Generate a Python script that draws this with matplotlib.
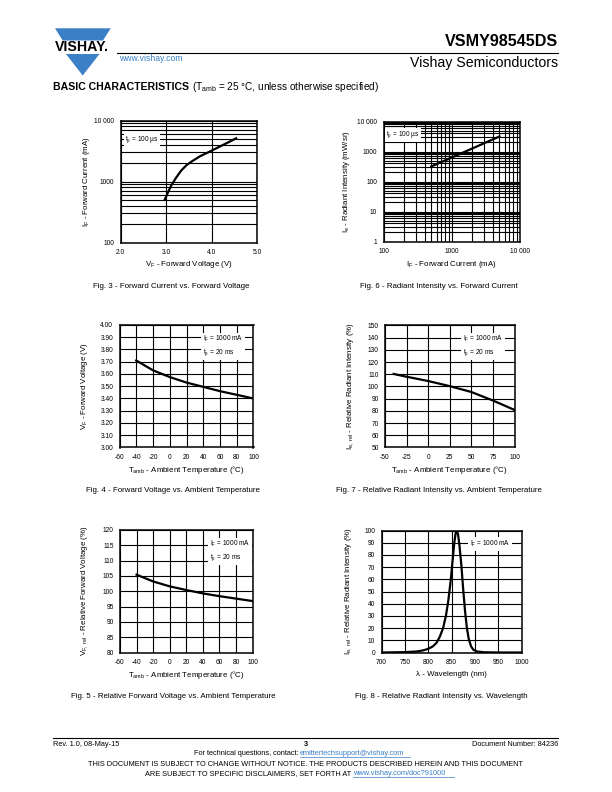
import numpy as np
import matplotlib
matplotlib.use("Agg")
import matplotlib.pyplot as plt
from matplotlib.ticker import FixedLocator, LogLocator, NullFormatter, FuncFormatter
from matplotlib.patches import Polygon

plt.rcParams['font.family'] = ['Liberation Sans', 'DejaVu Sans']
plt.rcParams['mathtext.fontset'] = 'custom'
plt.rcParams['mathtext.rm'] = 'Liberation Sans'
plt.rcParams['mathtext.it'] = 'Liberation Sans'
plt.rcParams['mathtext.default'] = 'regular'
plt.rcParams['axes.unicode_minus'] = False

W, H = 612, 792
BLUE = '#3b7fc7'

# Fig. 3 - forward current vs. forward voltage (tp = 100 us)
vf_volt = [2.97, 3.05, 3.12, 3.22, 3.34, 3.45, 3.56, 3.75, 3.96, 4.2, 4.4, 4.54]
if_ma = [500, 680, 870, 1150, 1530, 1850, 2120, 2600, 3090, 3800, 4500, 5100]

# Fig. 6 - radiant intensity vs. forward current
ie_if_ma = [500, 1000, 2000, 5000]
ie_mw_sr = [316, 630, 1260, 3160]

# Fig. 4 - forward voltage vs. ambient temperature
temp_c = [-40, -20, 0, 20, 40, 60, 80, 100]
vf_temp = [3.71, 3.63, 3.575, 3.53, 3.495, 3.46, 3.43, 3.40]

# Fig. 7 - relative radiant intensity vs. ambient temperature
temp7_c = [-40, -25, 0, 25, 50, 75, 100]
ie_rel_temp = [110.3, 108, 104.5, 100.3, 95.5, 88.5, 80.8]

# Fig. 5 - relative forward voltage vs. ambient temperature
vf_rel = [105.4, 103.2, 101.6, 100.4, 99.3, 98.4, 97.6, 96.8]

# Fig. 8 - relative radiant intensity vs. wavelength
wavelength = [700, 750, 775, 790, 800, 810, 818, 825, 832, 838, 843, 848, 852,
              856, 859, 861, 864, 867, 871, 875, 879, 883, 887, 892, 897,
              905, 920, 950, 1000]
ie_rel_wl = [0, 0.3, 0.8, 1.8, 3, 5, 8, 13, 20, 30, 42, 58, 74,
             90, 98, 100, 97, 88, 72, 52, 34, 20, 11, 5, 2.2,
             0.8, 0.2, 0, 0]

fig = plt.figure(figsize=(W / 100, H / 100), dpi=100)

# page overlay in pixel coordinates
page = fig.add_axes([0, 0, 1, 1])
page.set_xlim(0, W)
page.set_ylim(H, 0)
page.axis('off')


def ax_px(l, t, r, b):
    return fig.add_axes([l / W, 1 - b / H, (r - l) / W, (b - t) / H])


def style(ax):
    for s in ax.spines.values():
        s.set_linewidth(1.1)
        s.set_color('black')
    ax.tick_params(which='both', length=0, labelsize=4.8, pad=4.5)
    ax.grid(True, which='major', color='black', lw=0.8)
    ax.set_axisbelow(True)


def sep_thousands(v, pos):
    v = int(round(v))
    return '10 000' if v == 10000 else str(v)


def note(ax, x, y, s):
    ax.text(x, y, s, transform=ax.transAxes, fontsize=4.7, va='top', ha='left',
            linespacing=1.5,
            bbox=dict(facecolor='white', edgecolor='none', pad=1.2))


def labels(ax_box, xlabel, ylabel, caption, ylab_x, xlab_y, cap_y, cap_x):
    l, t, r, b = ax_box
    page.text((l + r) / 2, xlab_y, xlabel, fontsize=5.7, ha='center', va='center')
    page.text(ylab_x, (t + b) / 2, ylabel, fontsize=5.7, ha='center', va='center',
              rotation=90)
    page.text(cap_x, cap_y, caption, fontsize=5.7, ha='center', va='center')


# ---- Fig. 3
box3 = (120.5, 120.5, 257, 242.5)
ax3 = ax_px(*box3)
style(ax3)
ax3.set_yscale('log')
ax3.set_xlim(2.0, 5.0)
ax3.set_ylim(100, 10000)
ax3.xaxis.set_major_locator(FixedLocator([2.0, 3.0, 4.0, 5.0]))
ax3.xaxis.set_major_formatter(FuncFormatter(lambda v, p: '%.1f' % v))
ax3.yaxis.set_major_locator(FixedLocator([100, 1000, 10000]))
ax3.yaxis.set_major_formatter(FuncFormatter(sep_thousands))
ax3.yaxis.set_minor_locator(LogLocator(base=10, subs=np.arange(2, 10)))
ax3.yaxis.set_minor_formatter(NullFormatter())
ax3.grid(True, which='minor', axis='y', color='black', lw=0.8)
ax3.plot(vf_volt, if_ma, color='black', lw=1.6)
note(ax3, 0.035, 0.885, 't$_p$ = 100 µs')
labels(box3, 'V$_F$ - Forward Voltage (V)', 'I$_F$ - Forward Current (mA)',
       'Fig. 3 - Forward Current vs. Forward Voltage', 87, 265, 286, 171)

# ---- Fig. 6
box6 = (383.5, 121.5, 520, 241.5)
ax6 = ax_px(*box6)
style(ax6)
ax6.set_xscale('log')
ax6.set_yscale('log')
ax6.set_xlim(100, 10000)
ax6.set_ylim(1, 10000)
ax6.xaxis.set_major_locator(FixedLocator([100, 1000, 10000]))
ax6.xaxis.set_major_formatter(FuncFormatter(sep_thousands))
ax6.yaxis.set_major_locator(FixedLocator([1, 10, 100, 1000, 10000]))
ax6.yaxis.set_major_formatter(FuncFormatter(sep_thousands))
for a in (ax6.xaxis, ax6.yaxis):
    a.set_minor_locator(LogLocator(base=10, subs=np.arange(2, 10)))
    a.set_minor_formatter(NullFormatter())
ax6.grid(True, which='minor', color='black', lw=0.8)
ax6.plot(ie_if_ma, ie_mw_sr, color='black', lw=1.6)
note(ax6, 0.02, 0.935, 't$_p$ = 100 µs')
labels(box6, 'I$_F$ - Forward Current (mA)', 'I$_e$ - Radiant Intensity (mW/sr)',
       'Fig. 6 - Radiant Intensity vs. Forward Current', 347, 265, 286, 439)

# ---- Fig. 4
box4 = (119.5, 325, 253.5, 447.5)
ax4 = ax_px(*box4)
style(ax4)
ax4.set_xlim(-60, 100)
ax4.set_ylim(3.0, 4.0)
ax4.xaxis.set_major_locator(FixedLocator(np.arange(-60, 101, 20)))
ax4.yaxis.set_major_locator(FixedLocator(np.arange(3.0, 4.01, 0.1)))
ax4.yaxis.set_major_formatter(FuncFormatter(lambda v, p: '%.2f' % v))
ax4.plot(temp_c, vf_temp, color='black', lw=1.6)
note(ax4, 0.62, 0.93, 'I$_F$ = 1000 mA\nt$_p$ = 20 ms')
labels(box4, 'T$_{amb}$ - Ambient Temperature (°C)', 'V$_F$ - Forward Voltage (V)',
       'Fig. 4 - Forward Voltage vs. Ambient Temperature', 85, 470, 491, 173)

# ---- Fig. 7
box7 = (385, 325.5, 514.5, 447.5)
ax7 = ax_px(*box7)
style(ax7)
ax7.set_xlim(-50, 100)
ax7.set_ylim(50, 150)
ax7.xaxis.set_major_locator(FixedLocator(np.arange(-50, 101, 25)))
ax7.yaxis.set_major_locator(FixedLocator(np.arange(50, 151, 10)))
ax7.plot(temp7_c, ie_rel_temp, color='black', lw=1.6)
note(ax7, 0.6, 0.93, 'I$_F$ = 1000 mA\nt$_p$ = 20 ms')
labels(box7, 'T$_{amb}$ - Ambient Temperature (°C)',
       'I$_{e,\\ rel}$ - Relative Radiant Intensity (%)',
       'Fig. 7 - Relative Radiant Intensity vs. Ambient Temperature', 350, 470, 491, 439)

# ---- Fig. 5
box5 = (120, 530, 252.5, 652.5)
ax5 = ax_px(*box5)
style(ax5)
ax5.set_xlim(-60, 100)
ax5.set_ylim(80, 120)
ax5.xaxis.set_major_locator(FixedLocator(np.arange(-60, 101, 20)))
ax5.yaxis.set_major_locator(FixedLocator(np.arange(80, 121, 5)))
ax5.plot(temp_c, vf_rel, color='black', lw=1.6)
note(ax5, 0.68, 0.93, 'I$_F$ = 1000 mA\nt$_p$ = 20 ms')
labels(box5, 'T$_{amb}$ - Ambient Temperature (°C)',
       'V$_{F,\\ rel}$ - Relative Forward Voltage (%)',
       'Fig. 5 - Relative Forward Voltage vs. Ambient Temperature', 85, 675, 697, 173)

# ---- Fig. 8
box8 = (381.5, 530.5, 521.5, 652.5)
ax8 = ax_px(*box8)
style(ax8)
ax8.set_xlim(700, 1000)
ax8.set_ylim(0, 100)
ax8.xaxis.set_major_locator(FixedLocator(np.arange(700, 1001, 50)))
ax8.yaxis.set_major_locator(FixedLocator(np.arange(0, 101, 10)))
ax8.plot(wavelength, ie_rel_wl, color='black', lw=1.6)
note(ax8, 0.63, 0.93, 'I$_F$ = 1000 mA')
labels(box8, 'λ - Wavelength (nm)', 'I$_{e,\\ rel}$ - Relative Radiant Intensity (%)',
       'Fig. 8 - Relative Radiant Intensity vs. Wavelength', 349, 674, 696, 441)

# ---- header
page.add_patch(Polygon([(55, 28.3), (110.7, 28.3), (103, 40.5), (62.7, 40.5)],
                       closed=True, facecolor=BLUE, edgecolor='none'))
page.add_patch(Polygon([(66, 54), (99.5, 54), (82.7, 75.5)],
                       closed=True, facecolor=BLUE, edgecolor='none'))
page.text(81.5, 47.3, 'VISHAY.', fontsize=10.2, fontweight='bold', ha='center',
          va='center', color='black')
page.plot([117, 558], [52.5, 52.5], color='black', lw=0.8)
page.text(119, 58.5, 'www.vishay.com', fontsize=6.2, color=BLUE, ha='left', va='center')
page.text(558, 42, 'VSMY98545DS', fontsize=11.6, fontweight='bold', ha='right',
          va='center')
page.text(558, 62.5, 'Vishay Semiconductors', fontsize=10.2, ha='right', va='center')
page.text(53, 87, 'BASIC CHARACTERISTICS', fontsize=7.6, fontweight='bold',
          ha='left', va='center')
page.text(192, 87, '(T$_{amb}$ = 25 °C, unless otherwise specified)', fontsize=7.2,
          ha='left', va='center')

# ---- footer
page.plot([53, 558], [737.5, 737.5], color='black', lw=0.8)
page.text(53, 744, 'Rev. 1.0, 08-May-15', fontsize=5.3, ha='left', va='center')
page.text(306, 744, '3', fontsize=5.3, fontweight='bold', ha='center', va='center')
page.text(558, 744, 'Document Number: 84236', fontsize=5.3, ha='right', va='center')
page.text(300, 753.5, 'For technical questions, contact: ', fontsize=5.3,
          ha='right', va='center')
page.text(300, 753.5, 'emittertechsupport@vishay.com', fontsize=5.3, color=BLUE,
          ha='left', va='center')
page.plot([300, 410], [757.3, 757.3], color=BLUE, lw=0.5)
page.text(306, 764.5, 'THIS DOCUMENT IS SUBJECT TO CHANGE WITHOUT NOTICE. THE PRODUCTS '
          'DESCRIBED HEREIN AND THIS DOCUMENT', fontsize=5.3, ha='center', va='center')
page.text(353, 773.5, 'ARE SUBJECT TO SPECIFIC DISCLAIMERS, SET FORTH AT ',
          fontsize=5.3, ha='right', va='center')
page.text(353, 773.5, 'www.vishay.com/doc?91000', fontsize=5.3, color=BLUE,
          ha='left', va='center')
page.plot([353, 454], [777.3, 777.3], color=BLUE, lw=0.5)

fig.savefig('out.png', dpi=100)
